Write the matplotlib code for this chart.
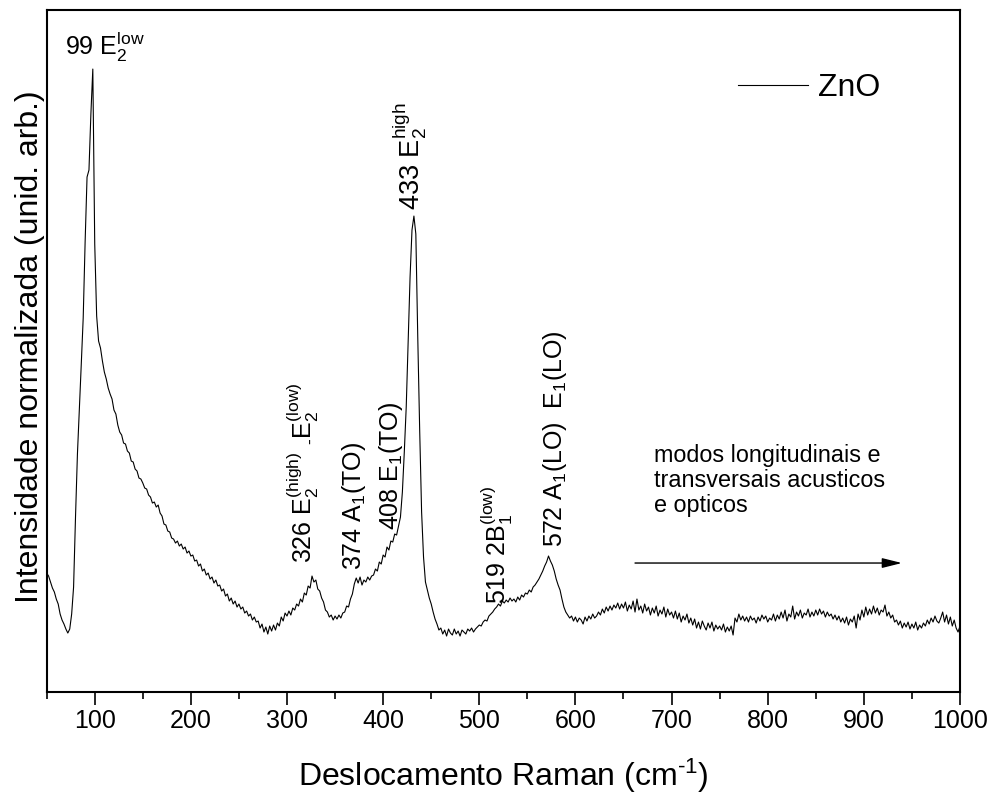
import numpy as np
import matplotlib
matplotlib.use("Agg")
import matplotlib.pyplot as plt
from matplotlib.ticker import MultipleLocator

plt.rcParams['font.family'] = ['Liberation Sans', 'DejaVu Sans']
plt.rcParams['mathtext.fontset'] = 'custom'
plt.rcParams['mathtext.rm'] = 'Liberation Sans'
plt.rcParams['mathtext.it'] = 'Liberation Sans:italic'
plt.rcParams['mathtext.bf'] = 'Liberation Sans:bold'
plt.rcParams['mathtext.default'] = 'regular'

# Raman shift grid step (cm^-1) inside each segment
STEP = 2

# Intensity (arb. units), each segment starts at the named wavenumber
seg_050 = [119, 116, 110, 104, 100, 93, 88, 78, 72, 68, 63, 59, 63, 78, 105, 175, 238, 282, 328, 374,
           450, 515, 522, 578, 623, 448, 376, 351, 344, 331, 320, 313, 304, 298, 293, 282, 278, 267, 260, 257,
           249, 248, 241, 239, 231, 230, 223, 221, 214, 213]
seg_150 = [209, 204, 203, 197, 195, 189, 190, 185, 187, 179, 176, 168, 167, 161, 160, 154, 153, 149, 151, 146,
           148, 143, 145, 139, 141, 136, 137, 131, 132, 126, 128, 121, 123, 117, 119, 113, 115, 109, 112, 106,
           107, 101, 103, 96, 98, 91, 94, 88, 91, 85]
seg_250 = [88, 83, 85, 79, 81, 76, 78, 72, 75, 70, 71, 64, 68, 60, 65, 58, 66, 61, 67, 62,
           69, 66, 75, 71, 79, 76, 81, 77, 84, 82, 88, 86, 93, 90, 99, 97, 106, 104, 116, 110,
           112, 103, 101, 94, 90, 82, 80, 75, 77, 72]
seg_350 = [76, 73, 77, 74, 79, 80, 86, 85, 93, 98, 108, 114, 109, 115, 107, 112, 110, 115, 112, 116,
           117, 123, 121, 130, 128, 137, 135, 145, 142, 151, 150, 158, 157, 166, 175, 200, 240, 285, 350, 415,
           462, 476, 458, 355, 262, 180, 135, 110, 102, 94]
seg_450 = [88, 80, 73, 68, 62, 64, 58, 62, 56, 63, 59, 57, 63, 58, 61, 56, 62, 60, 58, 63,
           61, 64, 60, 63, 65, 67, 66, 70, 72, 71, 76, 78, 80, 83, 85, 88, 86, 91, 89, 92,
           90, 94, 91, 93, 90, 95, 92, 97, 95, 99]
seg_550 = [98, 102, 100, 105, 107, 110, 113, 117, 121, 126, 130, 136, 131, 127, 121, 113, 107, 102, 93, 85,
           80, 77, 74, 76, 71, 75, 70, 74, 72, 68, 75, 71, 76, 73, 78, 74, 76, 80, 77, 83,
           79, 85, 81, 86, 82, 87, 84, 89, 83, 88]
seg_650 = [84, 90, 81, 87, 83, 91, 80, 93, 82, 86, 79, 88, 81, 85, 77, 84, 79, 86, 76, 82,
           78, 85, 75, 83, 77, 80, 74, 81, 73, 79, 70, 76, 72, 78, 69, 74, 67, 73, 64, 70,
           63, 71, 66, 62, 69, 64, 70, 61, 67, 63]
seg_750 = [66, 62, 68, 60, 65, 61, 66, 57, 74, 70, 78, 72, 76, 71, 75, 70, 76, 72, 74, 69,
           75, 71, 77, 73, 76, 70, 74, 72, 78, 71, 77, 73, 80, 74, 82, 71, 78, 75, 86, 73,
           80, 76, 82, 74, 79, 77, 83, 75, 80, 76]
seg_850 = [82, 77, 83, 78, 81, 75, 80, 76, 78, 73, 77, 72, 76, 70, 74, 69, 75, 67, 73, 70,
           76, 64, 78, 72, 82, 75, 85, 77, 83, 78, 86, 79, 84, 77, 82, 80, 87, 76, 80, 74,
           77, 70, 72, 67, 71, 64, 69, 65, 70, 63]
seg_950 = [68, 64, 70, 62, 67, 64, 69, 66, 72, 68, 74, 70, 76, 71, 69, 74, 80, 70, 77, 68,
           75, 66, 72, 64, 60, 66]
segment_starts = [50, 150, 250, 350, 450, 550, 650, 750, 850, 950]

x_ticks = [100, 200, 300, 400, 500, 600, 700, 800, 900, 1000]

segments = [seg_050, seg_150, seg_250, seg_350, seg_450, seg_550, seg_650, seg_750, seg_850, seg_950]
shift = np.concatenate([s0 + STEP * np.arange(len(seg)) for s0, seg in zip(segment_starts, segments)])
inten = np.concatenate([np.asarray(seg, float) for seg in segments])

fig = plt.figure(figsize=(9.95, 7.98), dpi=100)
ax = fig.add_axes([0.0469, 0.1328, 0.9179, 0.8546])

ax.plot(shift, inten, color='black', lw=0.8, label='ZnO')

ax.set_xlim(50, 1000)
ax.set_ylim(0, 682)
ax.set_yticks([])
ax.set_xticks(x_ticks)
ax.xaxis.set_minor_locator(MultipleLocator(50))
ax.tick_params(axis='x', which='major', direction='out', length=9, width=1.2, labelsize=18, pad=3)
ax.tick_params(axis='x', which='minor', direction='out', length=5, width=1.2)
for sp in ax.spines.values():
    sp.set_linewidth(1.5)

ax.set_xlabel(r'Deslocamento Raman (cm$^{\text{-}1}$)', fontsize=23, labelpad=17)
ax.set_ylabel('Intensidade normalizada (unid. arb.)', fontsize=23)
ax.yaxis.set_label_coords(-0.002, 0.5066)

leg = ax.legend(loc='center left', bbox_to_anchor=(0.757, 0.885), frameon=False, fontsize=23,
                handlelength=2.2, handletextpad=0.3, borderpad=0, borderaxespad=0)

# peak annotations
ax.text(68.8, 637, r'99 E$_2^{low}$', fontsize=18, ha='left', va='baseline')
rot_labels = [
    (326, 129, r'326 E$_2^{(high)}$ $_{\text{-}}$E$_2^{(low)}$', 18),
    (377, 122, r'374 A$_1$(TO)', 18),
    (415.5, 162, r'408 E$_1$(TO)', 18),
    (438, 482, r'433 E$_2^{high}$', 19.5),
    (528, 88, r'519 2B$_1^{(low)}$', 18),
    (586, 145, r'572 A$_1$(LO)  E$_1$(LO)', 18),
]
for xx, yy, s, fs in rot_labels:
    ax.text(xx, yy, s, fontsize=fs, rotation=90, rotation_mode='anchor', ha='left', va='baseline')

ax.text(681.6, 248, 'modos longitudinais e\ntransversais acusticos\ne opticos', fontsize=16.8,
        ha='left', va='top', linespacing=1.1)
ax.annotate('', xy=(939.6, 129), xytext=(662, 129),
            arrowprops=dict(arrowstyle='-|>,head_length=0.6,head_width=0.15', color='black', lw=1,
                            mutation_scale=20, shrinkA=0, shrinkB=0))

fig.savefig('out.png', dpi=100)
